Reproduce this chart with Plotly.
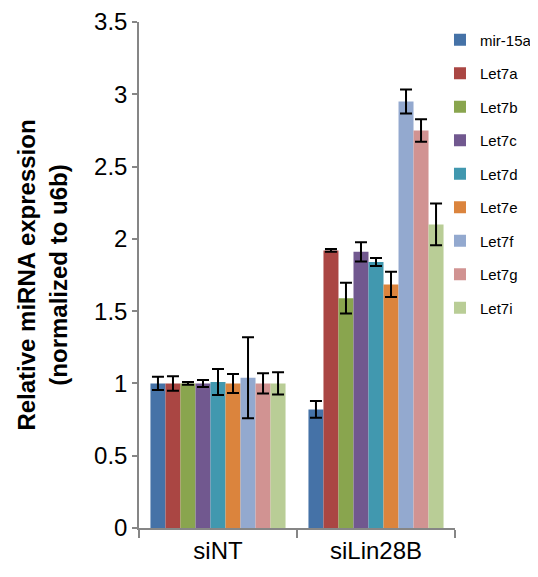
import plotly.graph_objects as go

categories = ["siNT", "siLin28B"]
series_names = ["mir-15a", "Let7a", "Let7b", "Let7c", "Let7d", "Let7e", "Let7f", "Let7g", "Let7i"]
colors = ["#4572A7", "#AA4643", "#89A54E", "#71588F", "#4198AF", "#DB843D", "#93A9CF", "#D19392", "#B9CD96"]

# values [siNT, siLin28B]
values = {
    "mir-15a": [1.00, 0.82],
    "Let7a":   [1.00, 1.92],
    "Let7b":   [1.00, 1.59],
    "Let7c":   [1.00, 1.91],
    "Let7d":   [1.01, 1.84],
    "Let7e":   [1.00, 1.685],
    "Let7f":   [1.04, 2.95],
    "Let7g":   [1.00, 2.75],
    "Let7i":   [1.00, 2.10],
}
errors = {
    "mir-15a": [0.046, 0.058],
    "Let7a":   [0.050, 0.010],
    "Let7b":   [0.010, 0.107],
    "Let7c":   [0.024, 0.066],
    "Let7d":   [0.090, 0.028],
    "Let7e":   [0.066, 0.087],
    "Let7f":   [0.28, 0.083],
    "Let7g":   [0.070, 0.078],
    "Let7i":   [0.077, 0.145],
}
y_ticks = [0, 0.5, 1, 1.5, 2, 2.5, 3, 3.5]
y_tick_labels = ["0", "0.5", "1", "1.5", "2", "2.5", "3", "3.5"]

FONT = "Liberation Sans, Arial, sans-serif"

fig = go.Figure()
for name, color in zip(series_names, colors):
    fig.add_trace(go.Bar(
        name=name,
        x=categories,
        y=values[name],
        marker=dict(color=color, line=dict(width=0)),
        error_y=dict(type="data", array=errors[name], visible=True,
                     color="black", thickness=2, width=6),
        legendgroup=name,
    ))

fig.update_layout(
    width=530, height=569,
    margin=dict(l=131, r=83, t=14, b=49, autoexpand=False),
    paper_bgcolor="white", plot_bgcolor="white",
    barmode="group", bargap=0.145, bargroupgap=0,
    font=dict(family=FONT, color="black"),
    legend=dict(x=0.9525, y=0.997, xanchor="left", yanchor="top",
                font=dict(size=15, family=FONT, color="black"),
                tracegroupgap=11, traceorder="grouped",
                itemwidth=30, bgcolor="rgba(0,0,0,0)"),
    xaxis=dict(
        type="category", showline=True, linecolor="#868686", linewidth=1.5,
        ticks="outside", tickson="boundaries", ticklen=8, tickcolor="#868686",
        tickwidth=1.5,
        tickfont=dict(size=24, family=FONT, color="black"),
        showgrid=False, zeroline=False, automargin=False,
    ),
    yaxis=dict(
        range=[0, 3.5], tickvals=y_ticks, ticktext=y_tick_labels,
        showline=True, linecolor="#868686", linewidth=1.5,
        ticks="outside", ticklen=5, tickcolor="#868686", tickwidth=1.5,
        tickfont=dict(size=24, family=FONT, color="black"),
        ticklabeloverflow="allow",
        showgrid=False, zeroline=False, automargin=False,
        title=dict(text="<b>Relative miRNA expression<br>(normalized to u6b)</b>",
                   font=dict(size=24, family=FONT, color="black"), standoff=20),
    ),
)

fig.write_html("out.html")
